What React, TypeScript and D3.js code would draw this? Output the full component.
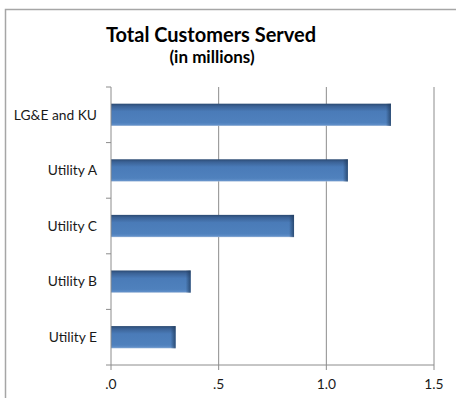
import React from "react";
import * as d3 from "d3";

const categories = ["LG&E and KU", "Utility A", "Utility C", "Utility B", "Utility E"];
const values = [1.3, 1.1, 0.85, 0.37, 0.3];
const xTicks = [0, 0.5, 1.0, 1.5];
const xTickLabels = [".0", ".5", "1.0", "1.5"];
const title = "Total Customers Served";
const subtitle = "(in millions)";

const W = 456;
const H = 398;
const left = 111;
const right = 434;
const top = 87;
const bottom = 365;
const FONT = "Lato, 'Open Sans', sans-serif";

export default function App() {
  const x = d3.scaleLinear().domain([0, 1.5]).range([left, right]);
  const y = d3.scaleBand<string>().domain(categories).range([top, bottom]).paddingInner(0.6).paddingOuter(0.3);
  const yOuter = d3.scaleBand<string>().domain(categories).range([top, bottom]);
  const boundaries = categories.map((c) => yOuter(c) as number).concat([bottom]);
  const axisColor = "#8c8c8c";

  return (
    <svg width={W} height={H} style={{ position: "absolute", left: 0, top: 0 }}>
      <defs>
        <linearGradient id="barV" x1="0" y1="0" x2="0" y2="1">
          <stop offset="0" stopColor="#2b4a72" />
          <stop offset="0.12" stopColor="#3b6296" />
          <stop offset="0.35" stopColor="#4a7bb8" />
          <stop offset="0.85" stopColor="#4f81bd" />
          <stop offset="0.95" stopColor="#5f8ec8" />
          <stop offset="1" stopColor="#9db7d8" />
        </linearGradient>
        <linearGradient id="barH" x1="0" y1="0" x2="1" y2="0">
          <stop offset="0" stopColor="#1f3a5c" stopOpacity="0" />
          <stop offset="1" stopColor="#1f3a5c" stopOpacity="0.75" />
        </linearGradient>
      </defs>
      <rect x={0} y={0} width={W} height={H} fill="#fff" />
      <rect x={5.5} y={9.5} width={W + 10} height={H + 10} fill="#fff" stroke="#a6a6a6" strokeWidth={1.5} />

      <text x={211} y={42} textAnchor="middle" fontFamily={FONT} fontWeight="bold" fontSize={20} fill="#000">
        {title}
      </text>
      <text x={212} y={63} textAnchor="middle" fontFamily={FONT} fontWeight="bold" fontSize={17} fill="#000">
        {subtitle}
      </text>

      {xTicks.slice(1).map((t) => (
        <line key={"g" + t} x1={x(t)} x2={x(t)} y1={top} y2={bottom} stroke={axisColor} strokeWidth={1} />
      ))}

      {categories.map((c, i) => {
        const by = y(c) as number;
        const bh = y.bandwidth();
        const bw = x(values[i]) - x(0);
        return (
          <g key={c}>
            <rect x={x(0)} y={by} width={bw} height={bh} fill="url(#barV)" />
            <rect x={x(0) + bw - 5} y={by} width={5} height={bh} fill="url(#barH)" />
          </g>
        );
      })}

      <line x1={left} x2={left} y1={top} y2={bottom} stroke={axisColor} strokeWidth={1} />
      {boundaries.map((b, i) => (
        <line key={"yt" + i} x1={left - 5} x2={left} y1={b} y2={b} stroke={axisColor} strokeWidth={1} />
      ))}
      <line x1={left} x2={right} y1={bottom} y2={bottom} stroke={axisColor} strokeWidth={1} />
      {xTicks.map((t) => (
        <line key={"xt" + t} x1={x(t)} x2={x(t)} y1={bottom} y2={bottom + 5} stroke={axisColor} strokeWidth={1} />
      ))}

      {categories.map((c) => (
        <text
          key={"l" + c}
          x={97}
          y={(y(c) as number) + y.bandwidth() / 2}
          dy="0.35em"
          textAnchor="end"
          fontFamily={FONT}
          fontSize={13.8}
          fill="#1a1a1a"
        >
          {c}
        </text>
      ))}
      {xTicks.map((t, i) => (
        <text key={"xl" + t} x={x(t)} y={389} textAnchor="middle" fontFamily={FONT} fontSize={13.8} fill="#1a1a1a">
          {xTickLabels[i]}
        </text>
      ))}
    </svg>
  );
}
